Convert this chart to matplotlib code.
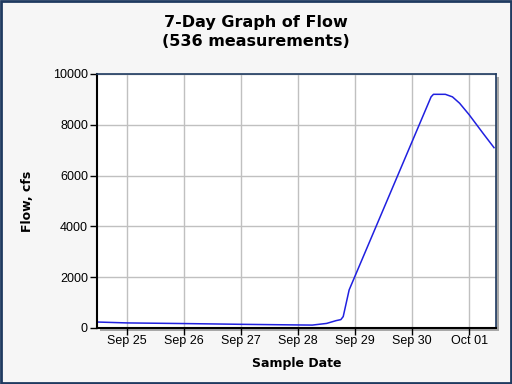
import numpy as np
import matplotlib
matplotlib.use("Agg")
from matplotlib import pyplot as plt
import matplotlib.dates as mdates
from matplotlib.patches import Rectangle

##################
# Flow readings

times = np.array([
    "2024-09-24T11:30", "2024-09-25T00:00", "2024-09-26T00:00", "2024-09-27T00:00",
    "2024-09-28T00:00", "2024-09-28T06:00", "2024-09-28T12:00", "2024-09-28T16:00",
    "2024-09-28T18:00", "2024-09-28T19:00", "2024-09-28T21:30", "2024-09-29T00:00",
    "2024-09-30T08:00", "2024-09-30T09:00", "2024-09-30T14:00", "2024-09-30T17:00",
    "2024-09-30T20:00", "2024-10-01T00:00", "2024-10-01T06:00", "2024-10-01T10:30",
], dtype="datetime64[m]")
flow = np.array([
    235, 200, 175, 145,
    120, 115, 180, 290,
    330, 450, 1500, 2050,
    9100, 9200, 9200, 9100,
    8850, 8400, 7650, 7100,
])

tick_days = np.arange(np.datetime64("2024-09-25"), np.datetime64("2024-10-02"),
                      np.timedelta64(1, "D"))
x_start = np.datetime64("2024-09-24T11:20")
x_end = np.datetime64("2024-10-01T11:20")

fig = plt.figure(figsize=(5.12, 3.84), dpi=100)
fig.patch.set_facecolor('#f6f6f6')
fig.patches.append(Rectangle((0.002, 0.003), 0.996, 0.994, transform=fig.transFigure,
                             fill=False, edgecolor='#1f3a60', linewidth=2))

box = [97/512, 1 - 328/384, 399/512, 254/384]
# drop shadow behind the plot area
fig.patches.append(Rectangle((box[0] + 3/512, box[1] - 3/384), box[2], box[3],
                             transform=fig.transFigure, facecolor='#a8a8a8',
                             edgecolor='none', zorder=-1))

ax = fig.add_axes(box)
ax.set_facecolor('white')
ax.plot(times.astype("datetime64[s]").astype(object), flow, color='#2020e0', linewidth=1.1)

ax.set_xlim(x_start.astype(object), x_end.astype(object))
ax.set_ylim(0, 10000)
ax.set_xticks(tick_days.astype("datetime64[s]").astype(object))
ax.xaxis.set_major_formatter(mdates.DateFormatter('%b %d'))
ax.set_yticks(np.arange(0, 10001, 2000))
ax.grid(True, color='#c0c0c0', linewidth=1)
ax.set_axisbelow(True)

for s in ['top', 'right']:
    ax.spines[s].set_color('#1f3a60')
    ax.spines[s].set_linewidth(1.2)
for s in ['left', 'bottom']:
    ax.spines[s].set_color('black')
    ax.spines[s].set_linewidth(1.5)
ax.tick_params(direction='out', length=5, width=1, colors='black',
               labelsize=9, pad=1.5)
ax.tick_params(axis='x', pad=0)
for lab in ax.get_xticklabels() + ax.get_yticklabels():
    lab.set_family('Liberation Sans')

ax.set_xlabel('Sample Date', fontsize=9, fontweight='bold', labelpad=7)
ax.set_ylabel('Flow, cfs', fontsize=9, fontweight='bold', labelpad=14)
fig.text(0.5, 0.962, '7-Day Graph of Flow\n(536 measurements)', ha='center', va='top',
         fontsize=11.5, fontweight='bold', linespacing=1.35)

plt.savefig('out.png', dpi=100, facecolor=fig.get_facecolor())
